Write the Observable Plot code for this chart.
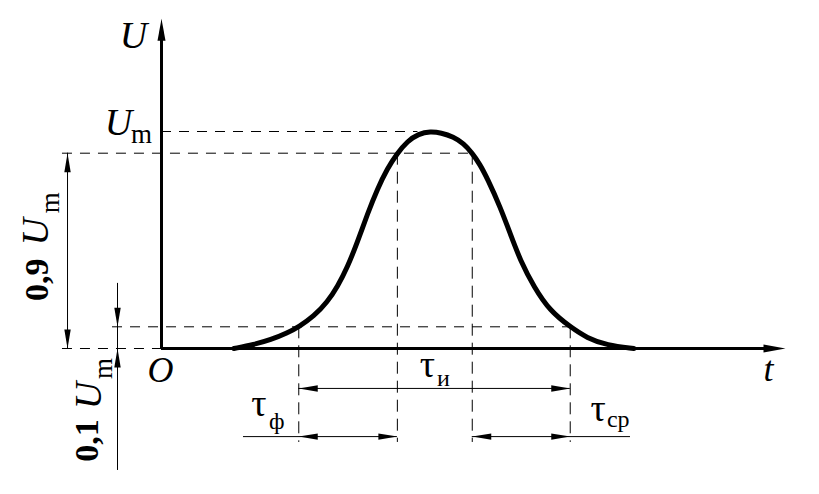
<!DOCTYPE html>
<html><head><meta charset="utf-8">
<script src="https://cdn.jsdelivr.net/npm/d3@7"></script>
<script src="https://cdn.jsdelivr.net/npm/@observablehq/plot@0.6"></script>
<style>body{margin:0;background:#fff}</style>
</head><body><div id="chart"></div>
<script>
// Pulse shape U(t) (U in units of Um)
const curveT = [1.16, 1.48, 1.75, 2.02, 2.2, 2.44, 2.66, 2.82, 2.98, 3.14, 3.3, 3.46, 3.62, 3.78, 3.94, 4.12, 4.31, 4.48, 4.68, 4.84, 4.98, 5.1, 5.22, 5.43, 5.59, 5.75, 5.97, 6.23, 6.55, 6.82, 7.14, 7.57];
const curveU = [0, 0.018, 0.04, 0.072, 0.1, 0.148, 0.215, 0.285, 0.375, 0.49, 0.62, 0.735, 0.83, 0.9, 0.955, 0.99, 1.0, 0.994, 0.975, 0.945, 0.9, 0.85, 0.785, 0.651, 0.528, 0.406, 0.283, 0.172, 0.1, 0.048, 0.015, 0];
// Characteristic levels and moments
const levelValues = [0.1, 0.9, 1.0];
const tauPoints = [2.2, 3.78, 4.98, 6.55];   // 0.1 rise, 0.9 rise, 0.9 fall, 0.1 fall
const tauLevels = [0.1, 0.9, 0.9, 0.1];
const peakT = 4.31;
const axisMax = {t: 10, u: 1.52};

const curve = curveT.map((t, i) => ({t, u: curveU[i]}));

// layout constants (in scale units)
const dimX09 = -1.506, dimX01 = -0.705, dashStart = -1.587, dash01Start = -0.785;
const row1 = -0.184, row2 = -0.406, vExtEnd = -0.433;
const row2Left = 1.314, row2Right = 7.516;

const hDash = [
  {x1: 0, x2: peakT - 0.2, y: levelValues[2]},
  {x1: dashStart, x2: tauPoints[2], y: levelValues[1]},
  {x1: dash01Start, x2: tauPoints[3], y: levelValues[0]},
  {x1: dashStart, x2: 0, y: 0}
];
const vDash = tauPoints.map((t, i) => ({x: t, y1: tauLevels[i], y2: vExtEnd}));

const dimH = [
  {x1: tauPoints[0], x2: tauPoints[3], y: row1},
  {x1: row2Left, x2: tauPoints[1], y: row2},
  {x1: tauPoints[2], x2: row2Right, y: row2}
];
const dimV = [
  {x: dimX09, y1: 0, y2: levelValues[1]},
  {x: dimX01, y1: -0.562, y2: 0.30}
];
const heads = [
  {x: tauPoints[0], y: row1, r: 270}, {x: tauPoints[3], y: row1, r: 90},
  {x: tauPoints[0], y: row2, r: 270}, {x: tauPoints[1], y: row2, r: 90},
  {x: tauPoints[2], y: row2, r: 270}, {x: tauPoints[3], y: row2, r: 90},
  {x: dimX09, y: levelValues[1], r: 0}, {x: dimX09, y: 0, r: 180},
  {x: dimX01, y: levelValues[0], r: 180}, {x: dimX01, y: 0, r: 0}
];
const axisHeads = [{x: 0, y: axisMax.u, r: 0}, {x: axisMax.t, y: 0, r: 90}];

const headSmall = {draw(ctx) { ctx.moveTo(0, 0); ctx.lineTo(-3.2, 19); ctx.lineTo(3.2, 19); ctx.closePath(); }};
const headAxis = {draw(ctx) { ctx.moveTo(0, 0); ctx.lineTo(-4, 22); ctx.lineTo(4, 22); ctx.closePath(); }};

const serif = "'Liberation Serif', 'DejaVu Serif', serif";
function label(text, x, y, dx, dy, opts = {}) {
  return Plot.text([{x, y, text}], {x: "x", y: "y", text: "text", dx, dy,
    fontFamily: serif, fill: "black", textAnchor: "middle", lineAnchor: "middle", ...opts});
}
const tauMid = (tauPoints[0] + tauPoints[3]) / 2;

const chart = Plot.plot({
  width: 819, height: 494, margin: 0,
  style: {background: "#fff", overflow: "visible"},
  x: {domain: [0, 10], range: [161, 785], axis: null},
  y: {domain: [0, 1], range: [348, 131], axis: null},
  marks: [
    Plot.ruleY(hDash, {x1: "x1", x2: "x2", y: "y", stroke: "black", strokeWidth: 1, strokeDasharray: "10,8"}),
    Plot.ruleX(vDash, {x: "x", y1: "y1", y2: "y2", stroke: "black", strokeWidth: 1, strokeDasharray: "12,7"}),
    Plot.ruleY(dimH, {x1: "x1", x2: "x2", y: "y", stroke: "black", strokeWidth: 1}),
    Plot.ruleX(dimV, {x: "x", y1: "y1", y2: "y2", stroke: "black", strokeWidth: 1}),
    Plot.dot(heads, {x: "x", y: "y", rotate: "r", symbol: headSmall, fill: "black", r: 3}),
    // axes
    Plot.ruleX([0], {y1: 0, y2: axisMax.u - 0.08, stroke: "black", strokeWidth: 3}),
    Plot.ruleY([0], {x1: 0, x2: axisMax.t - 0.25, stroke: "black", strokeWidth: 3}),
    Plot.dot(axisHeads, {x: "x", y: "y", rotate: "r", symbol: headAxis, fill: "black", r: 3}),
    // pulse
    Plot.line(curve, {x: "t", y: "u", stroke: "black", strokeWidth: 5, curve: "basis"}),
    // labels
    label("U", 0, axisMax.u - 0.08, -28, 0, {fontSize: 38, fontStyle: "italic"}),
    label("U", 0, levelValues[2], -43, -9, {fontSize: 38, fontStyle: "italic"}),
    label("m", 0, levelValues[2], -20, 3, {fontSize: 27}),
    label("O", 0, 0, -1, 22, {fontSize: 36, fontStyle: "italic"}),
    label("t", axisMax.t, 0, -17, 21, {fontSize: 36, fontStyle: "italic"}),
    label("τ", tauMid, row1, -7, -24, {fontSize: 38}),
    label("и", tauMid, row1, 9, -10, {fontSize: 24}),
    label("τ", tauPoints[0], row2, -40, -33, {fontSize: 38}),
    label("ф", tauPoints[0], row2, -22, -15, {fontSize: 24}),
    label("τ", tauPoints[3], row2, 28, -28, {fontSize: 38}),
    label("ср", tauPoints[3], row2, 48, -17, {fontSize: 24}),
    // rotated dimension labels
    label("0,9", dimX09, 0.45, -30, 29, {fontSize: 34, fontWeight: "bold", rotate: -90}),
    label("U", dimX09, 0.45, -32, -19, {fontSize: 38, fontStyle: "italic", rotate: -90}),
    label("m", dimX09, 0.45, -17, -48, {fontSize: 27, rotate: -90}),
    label("0,1", dimX01, 0, -30, 92, {fontSize: 34, fontWeight: "bold", rotate: -90}),
    label("U", dimX01, 0, -29, 47, {fontSize: 38, fontStyle: "italic", rotate: -90}),
    label("m", dimX01, 0, -14, 20, {fontSize: 27, rotate: -90})
  ]
});
document.getElementById("chart").append(chart);
</script>
</body></html>
